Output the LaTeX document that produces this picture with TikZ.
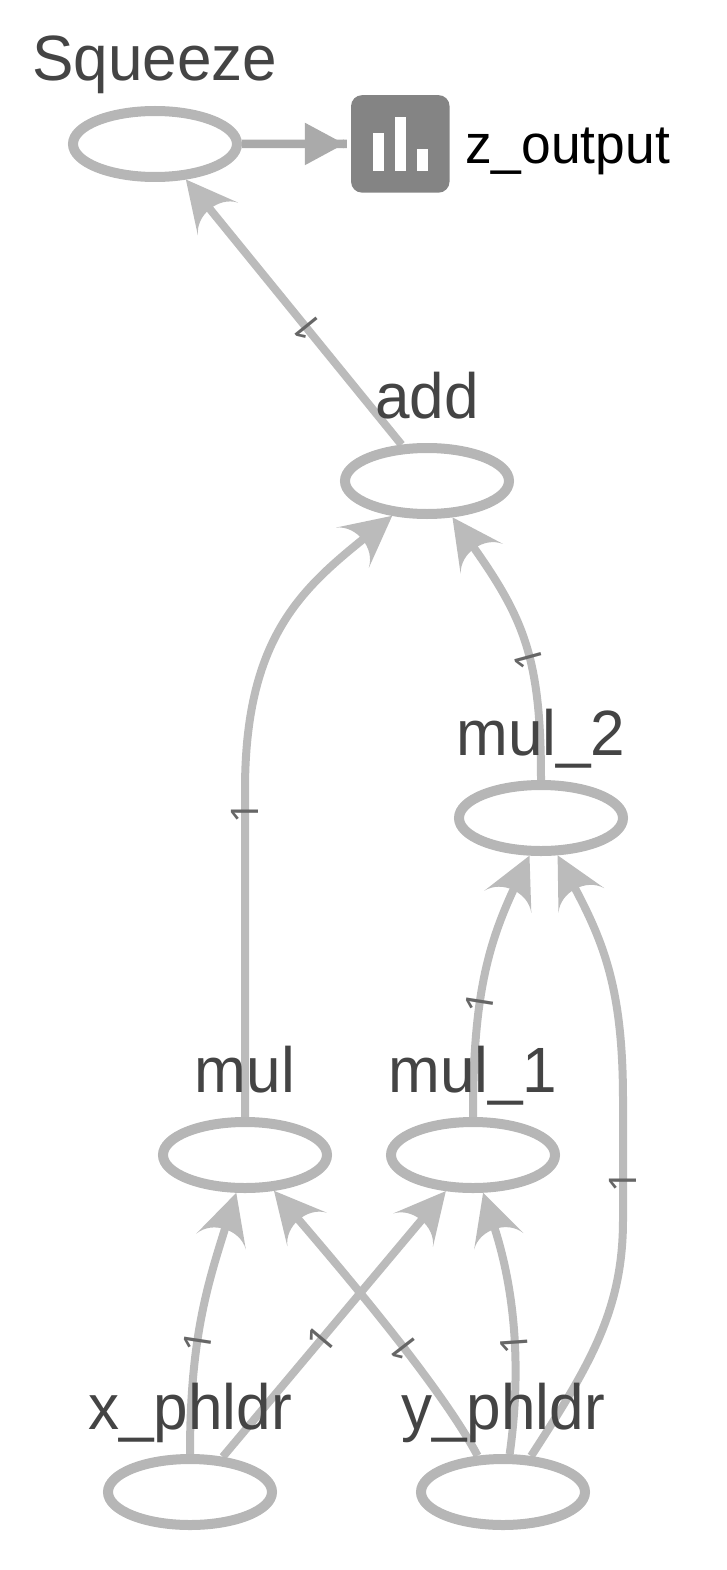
\documentclass[tikz,border=0pt]{standalone}
\usepackage{fontspec}
\setmainfont{Liberation Sans}
\newfontfamily\opfont[FakeStretch=.97]{Liberation Sans}
\newfontfamily\dimfont{Noto Sans}
\usetikzlibrary{arrows.meta,backgrounds,shapes.geometric}

\pgfdeclarearrow{
  name=GraphHead,
  setup code={
    \pgfarrowssettipend{0pt}
    \pgfarrowssetlineend{-35pt}
    \pgfarrowssetvisualbackend{-38pt}
    \pgfarrowssetbackend{-50pt}
  },
  drawing code={
    \pgfpathmoveto{\pgfpoint{0pt}{0pt}}
    \pgfpathlineto{\pgfpoint{-51pt}{26pt}}
    \pgfpathcurveto{\pgfpoint{-42pt}{20pt}}{\pgfpoint{-38pt}{10pt}}{\pgfpoint{-38pt}{0pt}}
    \pgfpathcurveto{\pgfpoint{-38pt}{-10pt}}{\pgfpoint{-42pt}{-20pt}}{\pgfpoint{-51pt}{-26pt}}
    \pgfpathclose
    \pgfusepathqfill
  }
}

\definecolor{edgegray}{HTML}{BBBBBB}
\definecolor{ringgray}{HTML}{B6B6B6}
\definecolor{summaryedgegray}{HTML}{AAAAAA}
\definecolor{summarygray}{HTML}{848484}
\definecolor{textgray}{HTML}{444444}
\definecolor{dimgray}{HTML}{666666}

\tikzset{
  opnode/.style={
    ellipse,draw=ringgray,line width=10pt,inner sep=0pt,
    minimum width=164pt,minimum height=66pt,
    label={[oplabeltext]90:#1},
  },
  oplabeltext/.style={
    anchor=base,yshift=25pt,text=textgray,font=\opfont\fontsize{64}{64}\selectfont,
  },
  tensoredge/.style={draw=edgegray,line width=8pt,-{GraphHead}},
  summaryedge/.style={
    draw=summaryedgegray,line width=8.5pt,shorten >=4pt,
    -{Triangle[length=40pt,width=40pt,sep=-2pt]Rectangle[length=4pt,width=8.5pt]},
  },
  dimlabel/.style={
    sloped,allow upside down,inner sep=0pt,text=dimgray,
    font=\dimfont\fontsize{38}{38}\selectfont,
  },
}

\begin{document}
\begin{tikzpicture}[x=1pt,y=-1pt]
  \useasboundingbox (0,0) rectangle (726,1570);

  \node[opnode=Squeeze] (Squeeze) at (155,144) {};
  \node[opnode=add] (add) at (427,481) {};
  \node[opnode={mul\_2}] (mul_2) at (541,818) {};
  \node[opnode=mul] (mul) at (245,1155) {};
  \node[opnode={mul\_1}] (mul_1) at (473,1155) {};
  \node[opnode={x\_phldr}] (x_phldr) at (190,1492) {};
  \node[opnode={y\_phldr}] (y_phldr) at (503,1492) {};

  % summary icon
  \node[fill=summarygray,rounded corners=11pt,inner sep=0pt,
        minimum width=98.5pt,minimum height=97.5pt] (z_output) at (400.3,143.9) {};
  \foreach \barx/\bartop in {373/133,395/117,417/149}
    \fill[white] (\barx,171.5) rectangle ({\barx+11},\bartop);
  \node[anchor=base west,inner sep=0pt,font=\opfont\fontsize{55}{55}\selectfont] (z_text) at (465,163.3) {z\_output};

  \begin{scope}[on background layer]
    \draw[summaryedge] (Squeeze.east) -- (z_output.west);
    \draw[tensoredge] (add.125) -- node[dimlabel,pos=.44] {1} (Squeeze.-49);
    \draw[tensoredge] (mul.90) -- node[dimlabel,pos=.93] {1} (245,790)
      .. controls (245,640) and (300,590) .. (add.-135);
    \draw[tensoredge] (mul_2.90) .. controls (541,660) and (525,620) .. node[dimlabel,pos=.43] {1} (add.-55);
    \draw[tensoredge] (mul_1.90) .. controls (473,1000) and (487,946) .. node[dimlabel,pos=.39] {1} (mul_2.-107);
    \draw[tensoredge] (y_phldr.52) .. controls (590,1365) and (623,1310) .. (623,1220)
      -- node[dimlabel,pos=.32] {1} (623,1100)
      .. controls (623,990) and (604,943) .. (mul_2.-66);
    \draw[tensoredge] (x_phldr.90) .. controls (190,1340) and (207,1286) .. node[dimlabel,pos=.39] {1} (mul.-103);
    \draw[tensoredge] (x_phldr.47) -- node[dimlabel,pos=.44] {1} (mul_1.-127);
    \draw[tensoredge] (y_phldr.125) .. controls (440,1385) and (340,1268) .. node[dimlabel,pos=.42] {1} (mul.-51);
    \draw[tensoredge] (y_phldr.80) .. controls (520,1380) and (518,1300) .. node[dimlabel,pos=.47] {1} (mul_1.-75);
  \end{scope}
\end{tikzpicture}
\end{document}
